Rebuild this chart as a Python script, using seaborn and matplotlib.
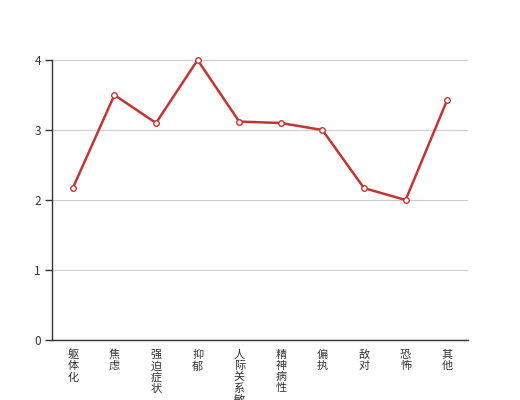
import matplotlib
matplotlib.use("Agg")
import matplotlib.pyplot as plt
import seaborn as sns
import pandas as pd
import numpy as np

categories = ["躯体化", "焦虑", "强迫症状", "抑郁", "人际关系敏感", "精神病性", "偏执", "敌对", "恐怖", "其他"]
values = [2.17, 3.5, 3.1, 4.0, 3.12, 3.1, 3.0, 2.17, 2.0, 3.43]
yticks = [0, 1, 2, 3, 4]

sns.set_theme(style="white")
plt.rcParams['font.family'] = ['Noto Sans CJK SC', 'DejaVu Sans']

df = pd.DataFrame({"cat": categories, "val": values})
df["pos"] = np.arange(len(categories))

fig = plt.figure(figsize=(5.2, 4.0), dpi=100)
ax = fig.add_axes([0.1, 0.15, 0.8, 0.70])

sns.lineplot(data=df, x="pos", y="val", ax=ax, color="#c23531", linewidth=1.8,
             marker="o", markersize=4, markerfacecolor="white",
             markeredgecolor="#c23531", markeredgewidth=1, zorder=3)
for ln in ax.lines:
    ln.set_clip_on(False)

ax.set_xlim(-0.5, len(categories) - 0.5)
ax.set_ylim(0, 4)
ax.set_yticks(yticks)
ax.set_yticklabels([str(t) for t in yticks], color="#333333", fontsize=8.5)
ax.yaxis.grid(True, color="#cccccc", linewidth=0.8)
ax.xaxis.grid(False)
ax.set_axisbelow(True)

ax.set_xticks(np.arange(len(categories)))
ax.set_xticklabels(["\n".join(c) for c in categories], color="#333333",
                   fontsize=8, linespacing=1.12, va="top")
ax.set_xticks(np.arange(len(categories) + 1) - 0.5, minor=True)
ax.tick_params(axis="x", which="major", length=0, pad=7)
ax.tick_params(axis="x", which="minor", length=5, color="#333333", width=1, direction="out")
ax.tick_params(axis="y", length=5, color="#333333", width=1, direction="out", pad=3, left=True)

for s in ["top", "right"]:
    ax.spines[s].set_visible(False)
for s in ["left", "bottom"]:
    ax.spines[s].set_color("#333333")
    ax.spines[s].set_linewidth(1)

ax.set_xlabel("")
ax.set_ylabel("")

fig.savefig("out.png", dpi=100)
